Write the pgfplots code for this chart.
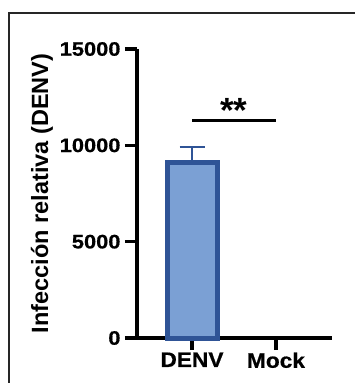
\documentclass[border=0pt]{standalone}
\usepackage{fontspec}
\setmainfont{Liberation Sans}
\newfontfamily\tickfont[BoldFeatures={FakeStretch=1.12, FakeBold=0.6}]{Liberation Sans}
\newfontfamily\xfont[BoldFeatures={FakeStretch=1.08, FakeBold=0.6}]{Liberation Sans}
\usepackage{pgfplots}
\pgfplotsset{compat=1.18}
\definecolor{barfill}{RGB}{123,160,212}
\definecolor{barline}{RGB}{47,84,150}
\begin{document}
\begin{tikzpicture}[x=1pt,y=1pt]
\useasboundingbox (-137,-45) rectangle (218,338);
\draw[line width=2pt, black!85] (-128,-80) rectangle (260,325);
\begin{axis}[
  at={(0,0)}, anchor=south west,
  width=195pt, height=289pt, scale only axis,
  xmin=-0.655, xmax=1.667, ymin=0, ymax=15000,
  axis x line*=bottom, axis y line*=left,
  axis line style={line width=3.5pt, -},
  xtick={0,1}, xticklabels={DENV,Mock},
  ytick={0,5000,10000,15000},
  scaled y ticks=false,
  tick style={line width=3.5pt, black},
  tick align=outside, major tick length=12pt,
  /pgf/number format/1000 sep={}, /pgf/number format/assume math mode=true,
  yticklabel style={font=\tickfont\bfseries\fontsize{19.5}{20}\selectfont, xshift=-1pt},
  xticklabel style={font=\xfont\bfseries\fontsize{21}{22}\selectfont, yshift=1pt},
  ylabel={Infección relativa (DENV)},
  ylabel style={font=\bfseries\fontsize{23.5}{26}\selectfont, at={(axis description cs:-0.487,0.5)}, anchor=center},
  clip=false,
]
\addplot[ybar, bar width=50pt, fill=barfill, draw=barline, line width=5pt,
  error bars/.cd, y dir=plus, y explicit,
  error bar style={line width=1.5pt, barline},
  error mark options={line width=1.5pt, barline, mark size=12.5pt, rotate=90}]
  coordinates {(0,9100) +- (0,813)};
\draw[line width=3pt] (axis cs:0,11263) -- (axis cs:1,11263);
\node[anchor=base, font=\bfseries\fontsize{35}{35}\selectfont] at (axis cs:0.5,11200) {**};
\end{axis}
\end{tikzpicture}
\end{document}
